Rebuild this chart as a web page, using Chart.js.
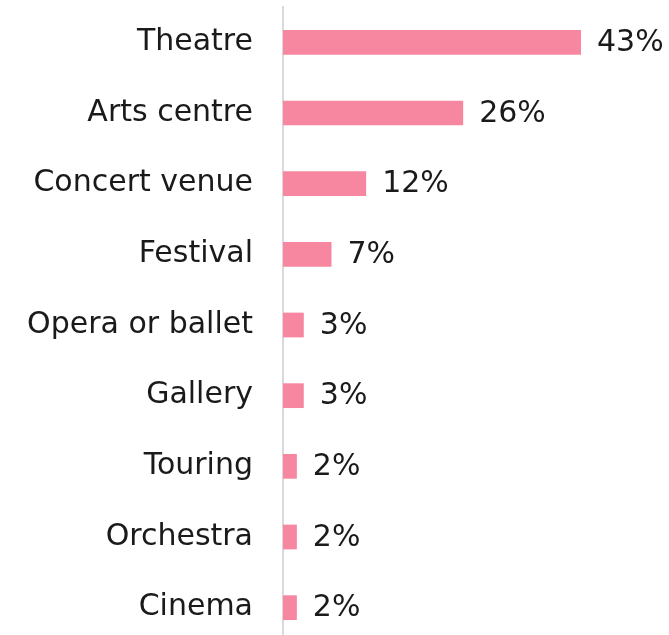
<!DOCTYPE html>
<html>
<head>
<meta charset="utf-8">
<script src="https://cdn.jsdelivr.net/npm/chart.js@4.4.0/dist/chart.umd.min.js"></script>
<style>
  html, body { margin: 0; padding: 0; background: #fff; overflow: hidden; }
  #wrap { width: 669px; height: 643px; position: relative; }
</style>
</head>
<body>
<div id="wrap"><canvas id="myChart"></canvas></div>
<script>
  const venues = [
    'Theatre',
    'Arts centre',
    'Concert venue',
    'Festival',
    'Opera or ballet',
    'Gallery',
    'Touring',
    'Orchestra',
    'Cinema'
  ];

  const shares = [43, 26, 12, 7, 3, 3, 2, 2, 2];

  const FONT = '"DejaVu Sans", sans-serif';
  const FONT_SIZE = 30;

  // draws "43%" etc just past the end of each bar
  const valueLabels = {
    id: 'valueLabels',
    afterDatasetsDraw(chart) {
      const ctx = chart.ctx;
      const meta = chart.getDatasetMeta(0);
      ctx.save();
      ctx.font = FONT_SIZE + 'px ' + FONT;
      ctx.fillStyle = '#1a1a1a';
      ctx.textAlign = 'left';
      ctx.textBaseline = 'middle';
      meta.data.forEach((bar, i) => {
        ctx.fillText(shares[i] + '%', bar.x + 16, bar.y + 1);
      });
      ctx.restore();
    }
  };

  const data1 = {
    labels: venues,
    datasets: [{
      label: 'Share',
      backgroundColor: 'rgb(247, 135, 161)',
      borderWidth: 0,
      data: shares,
      barPercentage: 0.7,
      categoryPercentage: 0.5
    }]
  };

  const config = {
    type: 'bar',
    data: data1,
    options: {
      indexAxis: 'y',
      responsive: true,
      maintainAspectRatio: false,
      animation: false,
      layout: { padding: { top: 7, right: 88, bottom: 0, left: 0 } },
      plugins: {
        legend: { display: false },
        tooltip: { enabled: false }
      },
      scales: {
        x: {
          display: false,
          min: 0,
          max: Math.max(...shares)
        },
        y: {
          afterFit(scale) {
            scale.width = 283;
            scale.paddingTop = 0;
            scale.paddingBottom = 0;
          },
          grid: { display: false, drawTicks: false },
          border: { display: true, color: '#d9d9d9', width: 2 },
          ticks: {
            padding: 30,
            color: '#1a1a1a',
            font: { family: FONT, size: FONT_SIZE }
          }
        }
      }
    },
    plugins: [valueLabels]
  };

  const myChart = new Chart(
    document.getElementById('myChart'),
    config
  );
</script>
</body>
</html>
